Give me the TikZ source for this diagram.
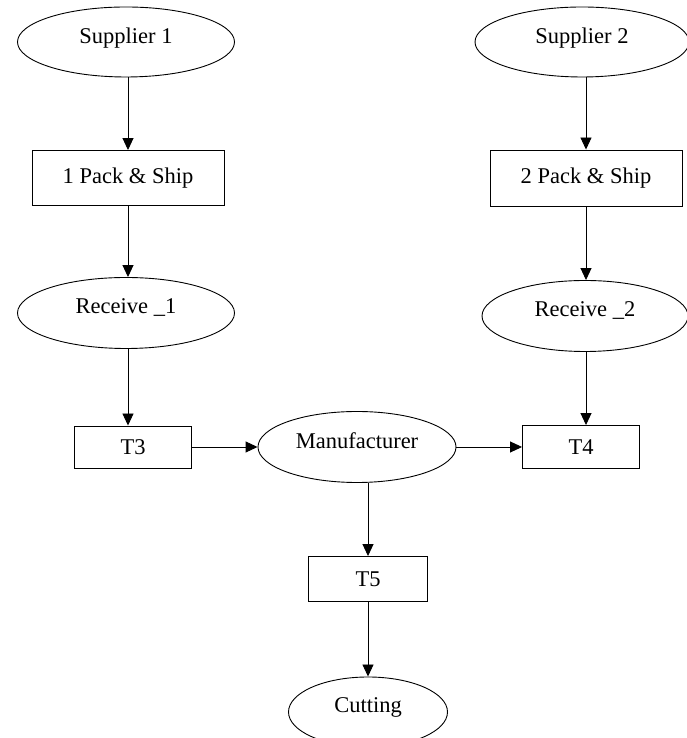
\documentclass[tikz,border=0pt]{standalone}
\usepackage{fontspec}
\setmainfont{Liberation Serif}
\usetikzlibrary{shapes,shapes.geometric,positioning,arrows.meta}

\begin{document}
\begin{tikzpicture}[x=1pt,y=1pt,
    site/.style={draw,ellipse,line width=0.9pt,inner sep=0pt,text depth=13pt},
    proc/.style={draw,rectangle,line width=0.9pt,inner sep=0pt},
    flow/.style={line width=0.9pt,-{Triangle[length=12pt,width=11pt]}},
    every node/.style={font=\fontsize{22.5}{27}\selectfont}]
      \useasboundingbox (0, 0) rectangle (686, 738);

      % Supplier 1 branch
      \node[site,minimum width=217,minimum height=70] (sup1) at (126, 696) {Supplier 1};
      \node[proc,minimum width=192,minimum height=55] (pack1) at (128, 560) {1 Pack \& Ship};
      \node[site,minimum width=217,minimum height=71] (rec1) at (126, 425) {Receive \_1};

      % Supplier 2 branch
      \node[site,minimum width=214,minimum height=70] (sup2) at (582, 696) {Supplier 2};
      \node[proc,minimum width=192,minimum height=56] (pack2) at (586, 560) {2 Pack \& Ship};
      \node[site,minimum width=206,minimum height=71] (rec2) at (585, 422) {Receive \_2};

      % Middle row
      \node[proc,minimum width=117,minimum height=42] (t3) at (133, 291) {T3};
      \node[site,minimum width=198,minimum height=71] (man) at (357, 291) {Manufacturer};
      \node[proc,minimum width=117,minimum height=43] (t4) at (581, 291) {T4};

      % Bottom
      \node[proc,minimum width=119,minimum height=45] (t5) at (368, 159) {T5};
      \node[site,minimum width=159,minimum height=70] (cut) at (368, 26) {Cutting};

      \draw[flow] (pack1.north |- sup1.south) -- (pack1.north);
      \draw[flow] (pack1.south) -- (pack1.south |- rec1.north);
      \draw[flow] (rec1.south -| pack1.south) -- (pack1.south |- t3.north);

      \draw[flow] (pack2.north |- sup2.south) -- (pack2.north);
      \draw[flow] (pack2.south) -- (pack2.south |- rec2.north);
      \draw[flow] (rec2.south -| pack2.south) -- (pack2.south |- t4.north);

      \draw[flow] (t3.east) -- (man.west);
      \draw[flow] (man.east) -- (t4.west);
      \draw[flow] (t5.north |- man.south) -- (t5.north);
      \draw[flow] (t5.south) -- (cut.north);
    \end{tikzpicture}
\end{document}
